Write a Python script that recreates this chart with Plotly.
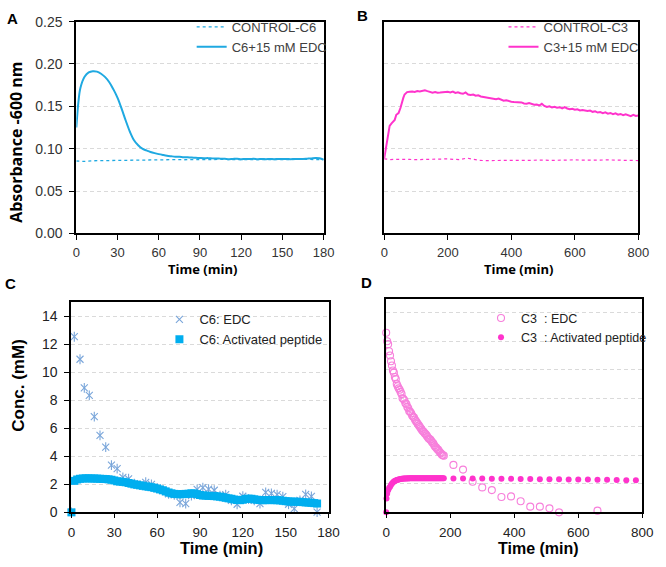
import plotly.graph_objects as go

W, H = 666, 567

# ---------------- Panel A data ----------------
a_time_edc = [0, 1.5, 3, 6, 9, 12, 15, 18, 21, 24, 27, 30, 33, 36, 39, 42, 45, 48, 51, 54, 57, 60,
              63, 66, 69, 72, 75, 78, 81, 84, 87, 90, 93, 96, 99, 102, 105, 108, 111, 114, 117, 120,
              123, 126, 129, 132, 135, 138, 141, 144, 147, 150, 153, 156, 159, 162, 165, 168, 171,
              174, 177, 180]
a_edc = [0.125, 0.155, 0.172, 0.185, 0.190, 0.1915, 0.1910, 0.1885, 0.1845, 0.1785, 0.1700, 0.1600,
         0.1470, 0.1330, 0.1200, 0.1100, 0.1040, 0.1000, 0.0980, 0.0962, 0.0948, 0.0936,
         0.0926, 0.0917, 0.0911, 0.0906, 0.0905, 0.0900, 0.0898, 0.0895, 0.0893, 0.0890,
         0.0888, 0.0889, 0.0886, 0.0885, 0.0883, 0.0882, 0.0877, 0.0880, 0.0882, 0.0876,
         0.0880, 0.0878, 0.0881, 0.0876, 0.0879, 0.0877, 0.0880, 0.0876, 0.0879, 0.0878,
         0.0880, 0.0877, 0.0880, 0.0879, 0.0880, 0.0883, 0.0886, 0.0891, 0.0888, 0.0870]
a_time_ctrl = [0, 6, 12, 18, 24, 30, 36, 42, 48, 54, 60, 66, 72, 78, 84, 90, 96, 102, 108, 114,
               120, 126, 132, 138, 144, 150, 156, 162, 168, 174, 180]
a_ctrl = [0.0855, 0.0850, 0.0858, 0.0860, 0.0862, 0.0863, 0.0861, 0.0866, 0.0864, 0.0868, 0.0870,
          0.0869, 0.0871, 0.0870, 0.0872, 0.0871, 0.0873, 0.0872, 0.0874, 0.0871, 0.0873,
          0.0872, 0.0874, 0.0872, 0.0873, 0.0871, 0.0874, 0.0873, 0.0875, 0.0872, 0.0874]

# ---------------- Panel B data ----------------
b_time_edc = [0, 4, 10, 17, 23, 33, 38, 45, 51, 55, 60, 64, 68, 72, 80, 88, 96, 104, 112, 120, 128,
              136, 144, 152, 160, 168, 176, 184, 192, 200, 208, 216, 224, 232, 240, 248, 256,
              264, 272, 280, 288, 296, 304, 312, 320, 328, 336, 344, 352, 360, 368, 376, 384,
              392, 400, 408, 416, 424, 432, 440, 448, 456, 464, 472, 480, 488, 496, 504, 512,
              520, 528, 536, 544, 552, 560, 568, 576, 584, 592, 600, 608, 616, 624, 632, 640,
              648, 656, 664, 672, 680, 688, 696, 704, 712, 720, 728, 736, 744, 752, 760, 768,
              776, 784, 792, 800]
b_edc = [0.0885, 0.098, 0.115, 0.127, 0.130, 0.134, 0.140, 0.142, 0.148, 0.155, 0.160, 0.164,
         0.1655, 0.1668, 0.1672, 0.1676, 0.1670, 0.1680, 0.1675, 0.1685, 0.1690, 0.1680,
         0.1670, 0.1662, 0.1668, 0.1660, 0.1662, 0.1665, 0.1670, 0.1672, 0.1665, 0.1674,
         0.1658, 0.1665, 0.1655, 0.1648, 0.1664, 0.1640, 0.1635, 0.1640, 0.1625, 0.1630,
         0.1616, 0.1610, 0.1605, 0.1600, 0.1596, 0.1590, 0.1584, 0.1592, 0.1575, 0.1567,
         0.1572, 0.1560, 0.1555, 0.1550, 0.1548, 0.1540, 0.1546, 0.1534, 0.1530, 0.1538,
         0.1524, 0.1518, 0.1522, 0.1510, 0.1530, 0.1505, 0.1492, 0.1500, 0.1487, 0.1495,
         0.1484, 0.1490, 0.1477, 0.1492, 0.1475, 0.1467, 0.1472, 0.1460, 0.1466, 0.1452,
         0.1458, 0.1447, 0.1445, 0.1450, 0.1435, 0.1441, 0.1427, 0.1432, 0.1420, 0.1430,
         0.1414, 0.1422, 0.1408, 0.1418, 0.1401, 0.1410, 0.1395, 0.1405, 0.1398, 0.1384,
         0.1400, 0.1387, 0.1392]
b_time_ctrl = [0, 20, 40, 60, 80, 100, 120, 140, 160, 180, 200, 220, 240, 260, 280, 300, 320, 340,
               360, 380, 400, 420, 440, 460, 480, 500, 520, 540, 560, 580, 600, 620, 640, 660,
               680, 700, 720, 740, 760, 780, 800]
b_ctrl = [0.0880, 0.0872, 0.0875, 0.0870, 0.0873, 0.0871, 0.0874, 0.0872, 0.0876, 0.0878, 0.0880,
          0.0874, 0.0872, 0.0890, 0.0872, 0.0862, 0.0860, 0.0862, 0.0864, 0.0861, 0.0866,
          0.0863, 0.0862, 0.0866, 0.0864, 0.0866, 0.0862, 0.0865, 0.0867, 0.0872, 0.0868,
          0.0866, 0.0864, 0.0867, 0.0866, 0.0868, 0.0864, 0.0866, 0.0863, 0.0862, 0.0860]

# ---------------- Panel C data ----------------
c_time_edc = [0, 2, 6, 9, 12.5, 16, 20, 24, 28, 32, 36, 40, 44, 48, 52, 56, 60, 64, 68, 72, 76, 80,
              84, 88, 92, 96, 100, 104, 108, 112, 116, 120, 124, 128, 132, 136, 140, 144, 148,
              152, 156, 160, 164, 168, 172]
c_edc = [0, 12.55, 10.94, 8.9, 8.36, 6.84, 5.5, 4.66, 3.38, 3.13, 2.5, 2.4, 2.05, 1.95, 2.15, 2.0,
         1.75, 1.55, 1.32, 1.25, 0.72, 0.62, 1.2, 1.64, 1.76, 1.66, 1.58, 1.2, 1.26, 0.85, 0.58,
         1.15, 0.95, 0.85, 0.62, 1.42, 1.36, 1.27, 1.12, 0.58, 0.26, 0.85, 1.28, 1.14, 0.02]
c_time_pep = [0] + list(range(2, 174, 2))
c_pep = [0,
         2.25, 2.35, 2.40, 2.42, 2.43, 2.43, 2.42, 2.42, 2.41, 2.40,
         2.39, 2.38, 2.36, 2.33, 2.28, 2.22, 2.20, 2.18, 2.15, 2.10,
         2.05, 2.00, 1.97, 1.93, 1.90, 1.86, 1.83, 1.80, 1.75, 1.70,
         1.64, 1.58, 1.50, 1.42, 1.36, 1.32, 1.30, 1.29, 1.30, 1.32,
         1.33, 1.36, 1.35, 1.30, 1.24, 1.20, 1.20, 1.18, 1.17, 1.16,
         1.14, 1.12, 1.08, 1.04, 1.00, 0.97, 0.92, 0.88, 0.87, 0.90,
         0.96, 0.98, 0.97, 0.93, 0.90, 0.88, 0.87, 0.87, 0.88, 0.88,
         0.87, 0.87, 0.86, 0.83, 0.80, 0.78, 0.77, 0.76, 0.76, 0.75,
         0.73, 0.71, 0.70, 0.68, 0.66, 0.63]

# ---------------- Panel D data ----------------
d_time_edc = list(range(0, 183, 3)) + [210, 240, 270, 300, 330, 360, 390, 420, 450, 480, 510, 540, 660]
d_edc = [12.6, 12.0, 11.8, 11.3, 11.0, 10.6, 10.3, 9.95, 9.8, 9.5,
         9.35, 9.0, 8.85, 8.7, 8.6, 8.45, 8.3, 8.0, 7.95, 7.85,
         7.65, 7.6, 7.4, 7.3, 7.1, 7.05, 6.95, 6.8, 6.7, 6.65,
         6.5, 6.4, 6.3, 6.2, 6.1, 6.0, 5.9, 5.8, 5.7, 5.65,
         5.55, 5.5, 5.4, 5.3, 5.2, 5.15, 5.1, 5.0, 4.9, 4.85,
         4.7, 4.6, 4.55, 4.45, 4.4, 4.3, 4.2, 4.15, 4.05, 4.0, 3.98,
         3.33, 3.0, 2.15, 1.75, 1.56, 1.08, 1.12, 0.78, 0.4, 0.4, 0.28, 0.0, 0.12]
d_time_pep = [0, 1] + list(range(3, 183, 3)) + list(range(210, 790, 30))
d_pep = [0, 0.97,
         1.30, 1.55, 1.70, 1.80, 1.92, 2.02, 2.10, 2.16, 2.20, 2.24,
         2.27, 2.29, 2.31, 2.33, 2.34, 2.35, 2.36, 2.37, 2.37, 2.38,
         2.38, 2.39, 2.38, 2.39, 2.39, 2.39, 2.40, 2.39, 2.40, 2.39,
         2.40, 2.40, 2.39, 2.40, 2.40, 2.39, 2.40, 2.40, 2.40, 2.39,
         2.40, 2.40, 2.39, 2.40, 2.40, 2.40, 2.39, 2.40, 2.40, 2.39,
         2.40, 2.40, 2.39, 2.40, 2.40, 2.39, 2.40, 2.40, 2.39, 2.40,
         2.38, 2.38, 2.37, 2.37, 2.36, 2.36, 2.35, 2.34, 2.34, 2.33,
         2.32, 2.32, 2.31, 2.30, 2.30, 2.29, 2.28, 2.27, 2.26, 2.25]

# ---------------- styles ----------------
BLUE = "#1FA9E1"
PINK = "#FF33CC"
C_EDC = "#7AA6DA"
C_PEP = "#00AEEF"
D_EDC = "#F77FDB"
ARIAL = "Liberation Sans, Arial, sans-serif"
OPEN = "Open Sans, Liberation Sans, sans-serif"

fig = go.Figure()

fig.add_trace(go.Scatter(x=a_time_ctrl, y=a_ctrl, mode="lines", name="CONTROL-C6",
                         line=dict(color=BLUE, width=1.3, dash="dot"),
                         xaxis="x", yaxis="y", legend="legend"))
fig.add_trace(go.Scatter(x=a_time_edc, y=a_edc, mode="lines", name="C6+15 mM EDC",
                         line=dict(color=BLUE, width=2, shape="spline"),
                         xaxis="x", yaxis="y", legend="legend"))

fig.add_trace(go.Scatter(x=b_time_ctrl, y=b_ctrl, mode="lines", name="CONTROL-C3",
                         line=dict(color=PINK, width=1.2, dash="dot"),
                         xaxis="x2", yaxis="y2", legend="legend2"))
fig.add_trace(go.Scatter(x=b_time_edc, y=b_edc, mode="lines", name="C3+15 mM EDC",
                         line=dict(color=PINK, width=2),
                         xaxis="x2", yaxis="y2", legend="legend2"))

fig.add_trace(go.Scatter(x=c_time_edc, y=c_edc, mode="markers", name="C6: EDC",
                         marker=dict(symbol="x-thin-open", size=7, color=C_EDC,
                                     line=dict(width=1.1, color=C_EDC)),
                         cliponaxis=False, xaxis="x3", yaxis="y3", legend="legend3"))
fig.add_trace(go.Scatter(x=c_time_edc, y=c_edc, mode="markers", name="C6: EDC",
                         marker=dict(symbol="line-ns-open", size=7, color=C_EDC,
                                     line=dict(width=1.1, color=C_EDC)),
                         showlegend=False, cliponaxis=False,
                         xaxis="x3", yaxis="y3", legend="legend3"))
fig.add_trace(go.Scatter(x=c_time_pep, y=c_pep, mode="markers", name="C6: Activated peptide",
                         marker=dict(symbol="square", size=8, color=C_PEP),
                         cliponaxis=False, xaxis="x3", yaxis="y3", legend="legend3"))

fig.add_trace(go.Scatter(x=d_time_edc, y=d_edc, mode="markers", name="C3  : EDC",
                         marker=dict(symbol="circle-open", size=7, color=D_EDC,
                                     line=dict(width=1.1, color=D_EDC)),
                         cliponaxis=False, xaxis="x4", yaxis="y4", legend="legend4"))
fig.add_trace(go.Scatter(x=d_time_pep, y=d_pep, mode="markers", name="C3  : Activated peptide",
                         marker=dict(symbol="circle", size=6, color=PINK),
                         cliponaxis=False, xaxis="x4", yaxis="y4", legend="legend4"))


def px_dom_x(a, b):
    return [a / W, b / W]


def px_dom_y(top, bottom):
    return [1 - bottom / H, 1 - top / H]


def base_axis(**kw):
    d = dict(showline=True, linecolor="black", linewidth=2, mirror=True,
             ticks="outside", ticklen=5, tickwidth=1.3, tickcolor="black",
             showgrid=False, zeroline=False, fixedrange=True,
             tickfont=dict(family=ARIAL, size=14, color="#333333"))
    d.update(kw)
    return d


grid = dict(showgrid=True, gridcolor="#DADADA", griddash="4px,3px", gridwidth=1)

layout = dict(
    width=W, height=H, margin=dict(l=0, r=0, t=0, b=0),
    paper_bgcolor="white", plot_bgcolor="white",
    xaxis=base_axis(domain=px_dom_x(74, 327), range=[0, 180], dtick=30, anchor="y",
                    ticklabelstandoff=1, tickfont=dict(family=ARIAL, size=13, color="#333333")),
    yaxis=base_axis(domain=px_dom_y(14, 232), range=[0, 0.25], dtick=0.05, tickformat=".2f",
                    anchor="x", ticklabelstandoff=4, **grid),
    xaxis2=base_axis(domain=px_dom_x(389, 649), range=[0, 800], dtick=200, anchor="y2",
                     ticklabelstandoff=1, tickfont=dict(family=ARIAL, size=13, color="#333333")),
    yaxis2=base_axis(domain=px_dom_y(14, 232), range=[0, 0.25], dtick=0.05, anchor="x2",
                     showticklabels=False, ticks="", **grid),
    xaxis3=base_axis(domain=px_dom_x(69, 332), range=[0, 180], dtick=30, anchor="y3",
                     ticklen=4, ticklabelstandoff=2,
                     tickfont=dict(family=ARIAL, size=13.5, color="#222222")),
    yaxis3=base_axis(domain=px_dom_y(303, 519), range=[0, 15], tickvals=[0, 2, 4, 6, 8, 10, 12, 14],
                     anchor="x3", ticklabelstandoff=4,
                     tickfont=dict(family=ARIAL, size=14, color="#222222"), **grid),
    xaxis4=base_axis(domain=px_dom_x(391, 653), range=[0, 800], dtick=200, anchor="y4",
                     ticklen=4, ticklabelstandoff=2,
                     tickfont=dict(family=ARIAL, size=13.5, color="#222222")),
    yaxis4=base_axis(domain=px_dom_y(299, 519), range=[0, 15], tickvals=[2, 4, 6, 8, 10, 12, 14],
                     anchor="x4", showticklabels=False, ticks="", **grid),
    legend=dict(x=192 / W, y=1 - 4 / H, xanchor="left", yanchor="top",
                bgcolor="rgba(0,0,0,0)", font=dict(family=ARIAL, size=13, color="#404040"),
                itemwidth=30, tracegroupgap=0),
    legend2=dict(x=511 / W, y=1 - 4 / H, xanchor="left", yanchor="top",
                 bgcolor="rgba(0,0,0,0)", font=dict(family=ARIAL, size=13, color="#404040"),
                 itemwidth=30, tracegroupgap=0),
    legend3=dict(x=159 / W, y=1 - 305 / H, xanchor="left", yanchor="top",
                 bgcolor="rgba(0,0,0,0)", font=dict(family=ARIAL, size=13, color="#222222"),
                 itemwidth=30, tracegroupgap=0),
    legend4=dict(x=488 / W, y=1 - 304 / H, xanchor="left", yanchor="top",
                 bgcolor="rgba(0,0,0,0)", font=dict(family=ARIAL, size=12.5, color="#222222"),
                 itemwidth=30, tracegroupgap=0),
    showlegend=True,
)
fig.update_layout(**layout)


def ann(text, x, y, size, family, bold=True, angle=0, color="black"):
    fig.add_annotation(text=f"<b>{text}</b>" if bold else text, x=x / W, y=1 - y / H,
                       xref="paper", yref="paper", showarrow=False, textangle=angle,
                       xanchor="center", yanchor="middle",
                       font=dict(size=size, family=family, color=color))


ann("A", 9, 11, 15, ARIAL)
ann("B", 367, 8, 15, ARIAL)
ann("C", 7, 283, 15, ARIAL)
ann("D", 371, 282, 15, ARIAL)
ann("Absorbance -600 nm", 12, 138, 16, OPEN, angle=-90)
ann("Time (min)", 203, 269, 13, OPEN)
ann("Time (min)", 526, 269, 13, OPEN)
ann("Conc. (mM)", 14, 388, 17, ARIAL, angle=-90)
ann("Time (min)", 222, 556, 16.5, ARIAL)
ann("Time (min)", 547, 556, 16, ARIAL)

fig.write_html("out.html")
